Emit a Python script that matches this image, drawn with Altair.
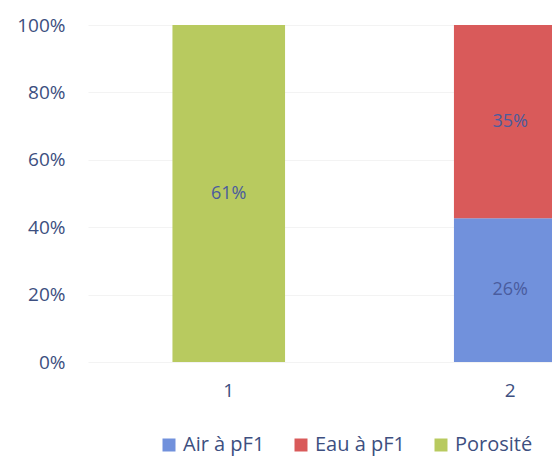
import altair as alt
import pandas as pd

categories = ["1", "2"]
series = ["Air à pF1", "Eau à pF1", "Porosité"]
air = [0, 26]
eau = [0, 35]
porosite = [61, 0]
colors = ["#7191dc", "#d95a5a", "#b8ca5f"]

rows = []
for i, c in enumerate(categories):
    for k, (s, vals) in enumerate(zip(series, [air, eau, porosite])):
        rows.append({"cat": c, "serie": s, "value": vals[i], "order": k})
df = pd.DataFrame(rows)

font = "Open Sans"
textcol = "#3d4f80"

base = alt.Chart(df).transform_stack(
    stack="value", groupby=["cat"], as_=["v0", "v1"], offset="normalize",
    sort=[alt.SortField("order", order="ascending")]
).transform_calculate(mid="(datum.v0 + datum.v1) / 2", lab="datum.value + '%'")

x = alt.X("cat:N", title=None, sort=categories,
          scale=alt.Scale(range=[0, 563], paddingInner=0.6, paddingOuter=0.3),
          axis=alt.Axis(labelAngle=0, labelFont=font, labelFontSize=19, labelColor=textcol,
                        ticks=False, domain=False, labelPadding=19))

bars = base.mark_bar(clip=True).encode(
    x=x,
    y=alt.Y("v0:Q", scale=alt.Scale(domain=[0, 1]),
            axis=alt.Axis(format="%", values=[0, 0.2, 0.4, 0.6, 0.8, 1.0], title=None,
                          labelFont=font, labelFontSize=19, labelColor=textcol,
                          ticks=False, domain=False, labelPadding=23,
                          gridColor="#f3f3f3", gridWidth=1)),
    y2="v1:Q",
    color=alt.Color("serie:N", sort=series,
                    scale=alt.Scale(domain=series, range=colors),
                    legend=alt.Legend(title=None, orient="none", direction="horizontal",
                                      legendX=71, legendY=410, symbolType="square",
                                      symbolSize=169, symbolStrokeWidth=0,
                                      labelFont=font, labelFontSize=20, labelColor=textcol,
                                      columnPadding=26, labelOffset=4)),
)

texts = base.transform_filter("datum.value > 0").mark_text(
    font=font, fontSize=18, color="#4a5c9e", clip=True
).encode(
    x=alt.X("cat:N", sort=categories),
    y=alt.Y("mid:Q"),
    text="lab:N",
)

chart = alt.layer(bars, texts).properties(
    width=464, height=337,
    autosize=alt.AutoSizeParams(type="none"),
    padding={"left": 80, "top": 17, "right": 0, "bottom": 94},
).configure_view(stroke=None)

chart.save("out.html", embed_options={"renderer": "svg", "actions": False})
